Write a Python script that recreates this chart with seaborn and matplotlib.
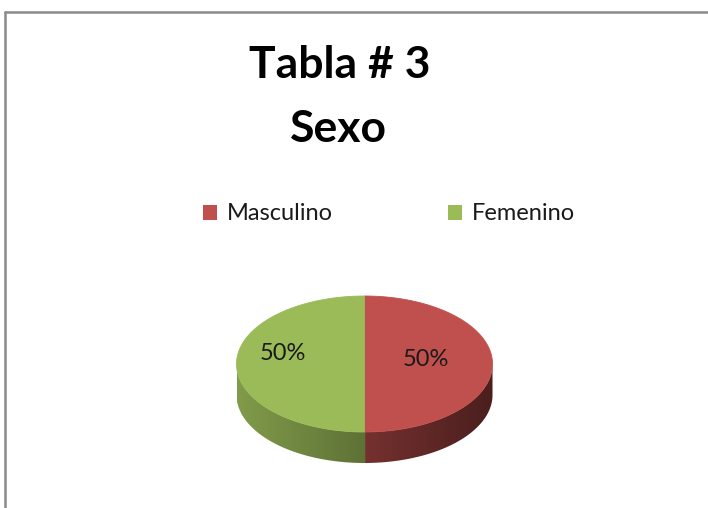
import numpy as np
import matplotlib
matplotlib.use("Agg")
import matplotlib.pyplot as plt
import seaborn as sns
from matplotlib.patches import Polygon, Patch
from matplotlib.lines import Line2D
from matplotlib.colors import to_rgb

# ---- data ----
categories = ["Masculino", "Femenino"]
values = [50, 50]
colors = ["#C0504D", "#9BBB59"]
title_lines = ["Tabla # 3", "Sexo"]

sns.set_theme(style="white")
plt.rcParams["font.family"] = ["Lato", "DejaVu Sans"]

W, H = 708, 508
fig = plt.figure(figsize=(W / 100, H / 100), dpi=100)
ax = fig.add_axes([0, 0, 1, 1])
ax.set_xlim(0, W)
ax.set_ylim(H, 0)
ax.axis("off")

# border of the chart area
fig.add_artist(Line2D([5 / W, 1], [1 - 12 / H] * 2, color="#8a8a8a", lw=1.8))
fig.add_artist(Line2D([5 / W] * 2, [0, 1 - 12 / H], color="#8a8a8a", lw=1.8))

# title
ax.text(340, 78, title_lines[0], ha="center", va="baseline", fontsize=32,
        fontweight="bold", color="#000000")
ax.text(338, 142, title_lines[1], ha="center", va="baseline", fontsize=32,
        fontweight="bold", color="#000000")

# ---- 3D pie geometry ----
cx, cy, rx, ry, depth = 364.5, 364.0, 128.0, 68.0, 31.0
total = float(sum(values))
fracs = [v / total for v in values]
starts = 90 - 360 * np.concatenate([[0], np.cumsum(fracs)[:-1]])
ends = starts - 360 * np.array(fracs)

def shade(x):
    t = (x - (cx - rx)) / (2 * rx)
    return 0.83 - 0.445 * t

# side walls (front half only)
for s, e, col in zip(starts, ends, colors):
    th = np.linspace(s, e, 400)
    front = np.sin(np.radians(th)) < 0
    if not front.any():
        continue
    idx = np.where(front)[0]
    runs = np.split(idx, np.where(np.diff(idx) != 1)[0] + 1)
    for run in runs:
        tr = np.radians(th[run])
        xs = cx + rx * np.cos(tr)
        ys = cy - ry * np.sin(tr)
        # widen slightly toward the seam to avoid an anti-aliasing gap
        pad = np.where(np.abs(xs - cx) < 1.0, np.sign(cx - xs.mean()) * 0.8, 0.0)
        xs_p = xs + pad
        pts = np.vstack([np.column_stack([xs_p, ys]),
                         np.column_stack([xs_p[::-1], ys[::-1] + depth])])
        poly = Polygon(pts, closed=True, facecolor="none", edgecolor="none")
        ax.add_patch(poly)
        x0, x1 = xs_p.min(), xs_p.max()
        gx = np.linspace(x0, x1, 256)
        base = np.array(to_rgb(col))
        img = np.clip(shade(gx)[:, None] * base[None, :], 0, 1)[None, :, :]
        img = np.repeat(img, 2, axis=0)
        im = ax.imshow(img, extent=(x0, x1, ys.max() + depth + 1, ys.min() - 1),
                       aspect="auto", interpolation="bilinear", zorder=2)
        im.set_clip_path(poly)

# top faces
for s, e, col in zip(starts, ends, colors):
    th = np.radians(np.linspace(s, e, 300))
    xs = np.concatenate([[cx], cx + rx * np.cos(th)])
    ys = np.concatenate([[cy], cy - ry * np.sin(th)])
    ax.add_patch(Polygon(np.column_stack([xs, ys]), closed=True, facecolor=col,
                         edgecolor=col, lw=0.6, zorder=3))

# percentage labels
label_r = [0.48, 0.64]
label_lift = [0.06, 0.16]
for s, e, f, lr, ll in zip(starts, ends, fracs, label_r, label_lift):
    mid = np.radians((s + e) / 2)
    lx = cx + lr * rx * np.cos(mid)
    ly = cy - ry * np.sin(mid) - ll * ry
    ax.text(lx, ly, f"{f * 100:.0f}%", ha="center", va="center", fontsize=17,
            color="#1a1a1a", zorder=4)

ax.set_xlim(0, W)
ax.set_ylim(H, 0)

# legend
handles = [Patch(facecolor=c, edgecolor="none", label=l) for c, l in zip(colors, categories)]
fig.legend(handles=handles, loc="center", bbox_to_anchor=(389 / W, 1 - 214 / H),
           ncol=2, frameon=False, fontsize=17, handlelength=0.6, handleheight=0.6,
           handletextpad=0.4, columnspacing=4.9, labelcolor="#1a1a1a")

fig.savefig("out.png", dpi=100)
